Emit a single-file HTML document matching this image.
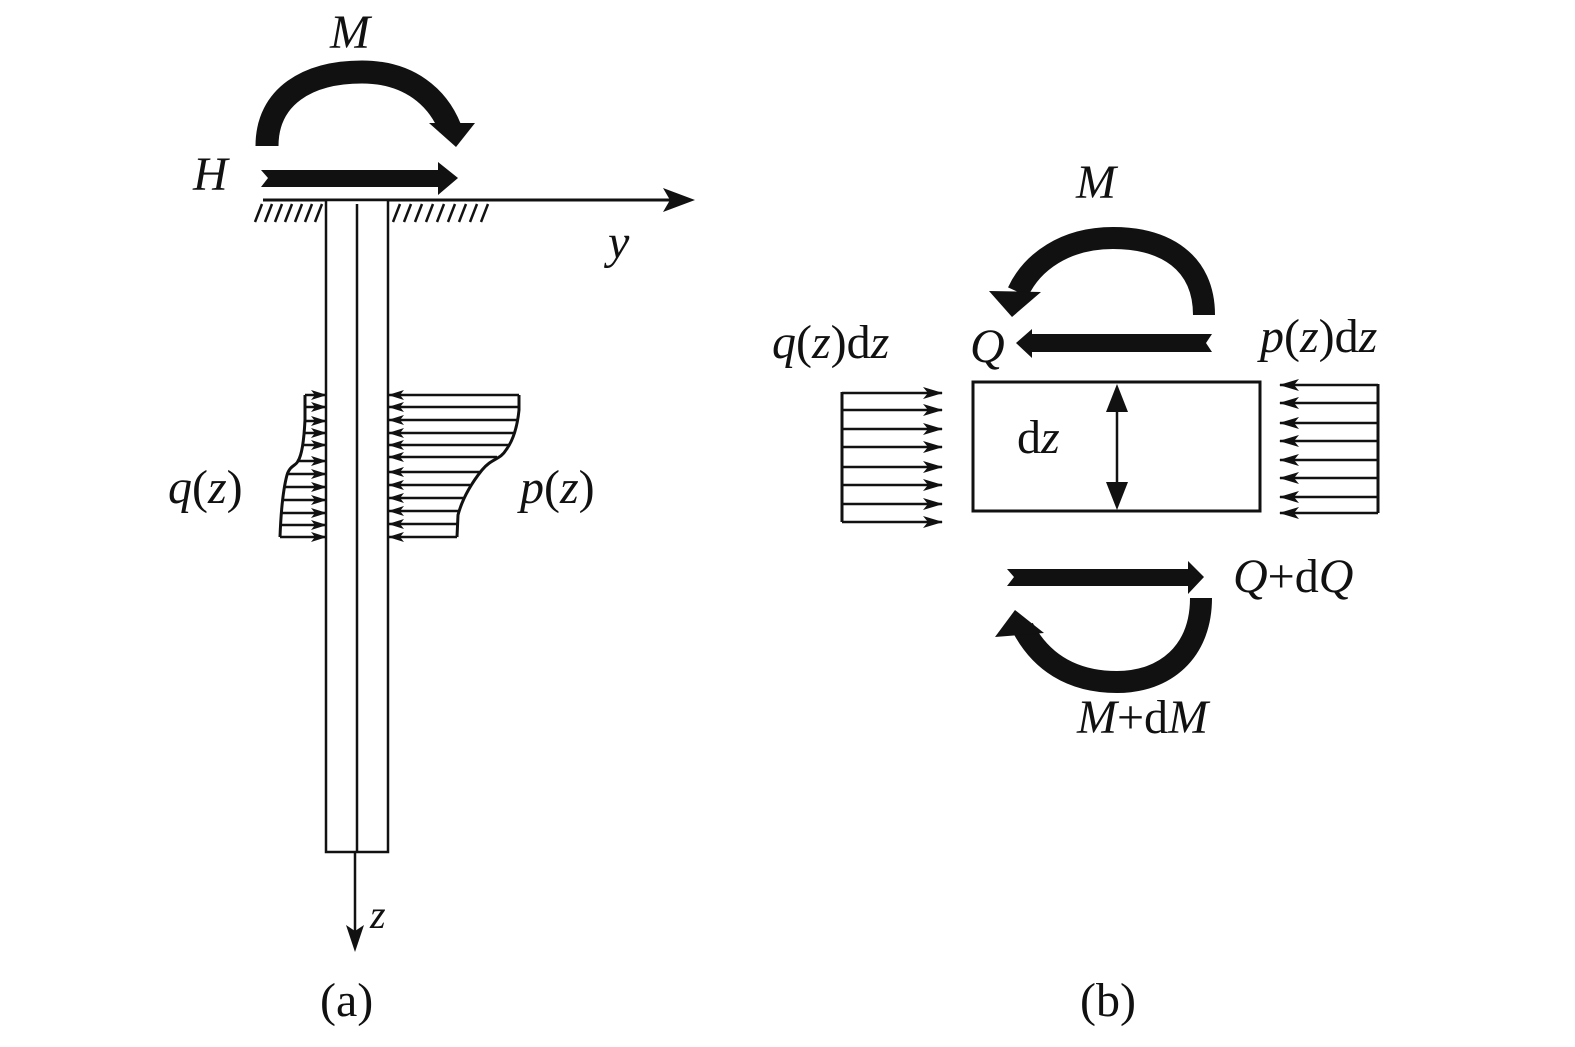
<!DOCTYPE html>
<html><head><meta charset="utf-8"><style>
html,body{margin:0;padding:0;background:#fff}
svg{display:block}
text{font-family:"Liberation Serif",serif;fill:#111}
</style></head><body>
<svg width="1575" height="1047" viewBox="0 0 1575 1047" xmlns="http://www.w3.org/2000/svg">
<defs>
<marker id="ar" markerWidth="20" markerHeight="12" refX="19" refY="6" orient="auto" markerUnits="userSpaceOnUse">
<path d="M0,0 L20,6 L0,12 L5,6 Z" fill="#111"/></marker>
<marker id="as" markerWidth="16" markerHeight="10" refX="15" refY="5" orient="auto" markerUnits="userSpaceOnUse">
<path d="M0,0 L16,5 L0,10 L4,5 Z" fill="#111"/></marker>
</defs>
<g stroke="#111" fill="none">
<!-- Figure a -->
<line x1="263" y1="200" x2="680" y2="200" stroke-width="3"/>
<polygon points="695,200 663,188 670,200 663,212" fill="#111" stroke="none"/>
<g stroke-width="2.5">
<line x1="262" y1="204" x2="255" y2="222"/><line x1="272" y1="204" x2="265" y2="222"/><line x1="282" y1="204" x2="275" y2="222"/><line x1="292" y1="204" x2="285" y2="222"/><line x1="302" y1="204" x2="295" y2="222"/><line x1="312" y1="204" x2="305" y2="222"/><line x1="322" y1="204" x2="315" y2="222"/>
<line x1="400" y1="204" x2="393" y2="222"/><line x1="411" y1="204" x2="404" y2="222"/><line x1="422" y1="204" x2="415" y2="222"/><line x1="433" y1="204" x2="426" y2="222"/><line x1="444" y1="204" x2="437" y2="222"/><line x1="455" y1="204" x2="448" y2="222"/><line x1="466" y1="204" x2="459" y2="222"/><line x1="477" y1="204" x2="470" y2="222"/><line x1="488" y1="204" x2="481" y2="222"/>
</g>
<rect x="326" y="200" width="62" height="652" stroke-width="2.5" fill="#fff"/>
<line x1="357" y1="204" x2="357" y2="852" stroke-width="2.5"/>
<line x1="355" y1="852" x2="355" y2="935" stroke-width="2.5"/>
<polygon points="355,952 346,925 355,931 364,925" fill="#111" stroke="none"/>
<!-- H arrow -->
<polygon points="261,170 438,170 438,162 458,178 438,195 438,187 261,187 268,178" fill="#111" stroke="none"/>
<!-- M arc a -->
<path d="M267 146 C267 96 308 72 362 72 C410 72 438 98 450 128" stroke-width="23"/>
<polygon points="429,123 475,123 456,147" fill="#111" stroke="none"/>
<!-- q(z) -->
<path d="M305 395 L305 420 C304 440 302 455 298 461 C296 466 290 465 287 475 C283 490 281 510 280 537" stroke-width="3"/>
<g stroke-width="2.5" marker-end="url(#as)">
<line x1="305" y1="395" x2="326" y2="395"/><line x1="305" y1="407" x2="326" y2="407"/><line x1="304" y1="421" x2="326" y2="421"/><line x1="303" y1="433" x2="326" y2="433"/><line x1="302" y1="445" x2="326" y2="445"/><line x1="298" y1="461" x2="326" y2="461"/><line x1="286" y1="474" x2="326" y2="474"/><line x1="284" y1="487" x2="326" y2="487"/><line x1="283" y1="500" x2="326" y2="500"/><line x1="282" y1="513" x2="326" y2="513"/><line x1="281" y1="525" x2="326" y2="525"/><line x1="280" y1="537" x2="326" y2="537"/>
</g>
<!-- p(z) -->
<path d="M519 395 L519 410 C517 430 512 442 506 450 C500 460 492 458 482 470 C470 485 462 500 458 515 L457 537" stroke-width="3"/>
<g stroke-width="2.5" marker-end="url(#as)">
<line x1="519" y1="395" x2="389" y2="395"/><line x1="519" y1="407" x2="389" y2="407"/><line x1="518" y1="420" x2="389" y2="420"/><line x1="515" y1="433" x2="389" y2="433"/><line x1="510" y1="445" x2="389" y2="445"/><line x1="497" y1="457" x2="389" y2="457"/><line x1="480" y1="472" x2="389" y2="472"/><line x1="470" y1="485" x2="389" y2="485"/><line x1="464" y1="498" x2="389" y2="498"/><line x1="460" y1="511" x2="389" y2="511"/><line x1="458" y1="524" x2="389" y2="524"/><line x1="457" y1="537" x2="389" y2="537"/>
</g>
<!-- Figure b -->
<rect x="973" y="382" width="287" height="129" stroke-width="3"/>
<line x1="1117" y1="405" x2="1117" y2="488" stroke-width="2.5"/>
<polygon points="1117,384 1106,412 1128,412" fill="#111" stroke="none"/>
<polygon points="1117,510 1106,482 1128,482" fill="#111" stroke="none"/>
<line x1="842" y1="392" x2="842" y2="522" stroke-width="3"/>
<g stroke-width="2.5" marker-end="url(#ar)">
<line x1="842" y1="393" x2="942" y2="393"/><line x1="842" y1="410" x2="942" y2="410"/><line x1="842" y1="429" x2="942" y2="429"/><line x1="842" y1="447" x2="942" y2="447"/><line x1="842" y1="467" x2="942" y2="467"/><line x1="842" y1="485" x2="942" y2="485"/><line x1="842" y1="504" x2="942" y2="504"/><line x1="842" y1="522" x2="942" y2="522"/>
</g>
<line x1="1378" y1="384" x2="1378" y2="513" stroke-width="3"/>
<g stroke-width="2.5" marker-end="url(#ar)">
<line x1="1378" y1="385" x2="1280" y2="385"/><line x1="1378" y1="403" x2="1280" y2="403"/><line x1="1378" y1="423" x2="1280" y2="423"/><line x1="1378" y1="441" x2="1280" y2="441"/><line x1="1378" y1="460" x2="1280" y2="460"/><line x1="1378" y1="478" x2="1280" y2="478"/><line x1="1378" y1="497" x2="1280" y2="497"/><line x1="1378" y1="513" x2="1280" y2="513"/>
</g>
<!-- Q arrow -->
<polygon points="1212,334 1032,334 1032,329 1016,343 1032,358 1032,352 1212,352 1206,343" fill="#111" stroke="none"/>
<!-- M arc b -->
<path d="M1204 315 C1204 262 1165 238 1113 238 C1065 238 1032 262 1018 292" stroke-width="22"/>
<polygon points="989,291 1041,292 1012,317" fill="#111" stroke="none"/>
<!-- Q+dQ arrow -->
<polygon points="1007,569 1188,569 1188,561 1204,577 1188,594 1188,586 1007,586 1014,577" fill="#111" stroke="none"/>
<!-- M+dM arc -->
<path d="M1201 598 C1201 652 1165 682 1117 682 C1070 682 1040 660 1023 628" stroke-width="22"/>
<polygon points="995,637 1044,633 1015,610" fill="#111" stroke="none"/>
</g>
<!-- labels -->
<g font-size="48">
<text font-style="italic" x="330" y="48">M</text>
<text font-style="italic" x="193" y="190">H</text>
<text font-style="italic" x="608" y="258">y</text>
<text font-style="italic" x="370" y="928" font-size="40">z</text>
<text x="168" y="503"><tspan font-style="italic">q</tspan>(<tspan font-style="italic">z</tspan>)</text>
<text x="520" y="503"><tspan font-style="italic">p</tspan>(<tspan font-style="italic">z</tspan>)</text>
<text x="320" y="1016">(a)</text>
<text x="1080" y="1016">(b)</text>
<text font-style="italic" x="1076" y="198">M</text>
<text font-style="italic" x="970" y="362">Q</text>
<text x="772" y="358"><tspan font-style="italic">q</tspan>(<tspan font-style="italic">z</tspan>)d<tspan font-style="italic">z</tspan></text>
<text x="1260" y="352"><tspan font-style="italic">p</tspan>(<tspan font-style="italic">z</tspan>)d<tspan font-style="italic">z</tspan></text>
<text x="1017" y="453">d<tspan font-style="italic">z</tspan></text>
<text x="1233" y="592"><tspan font-style="italic">Q</tspan>+d<tspan font-style="italic">Q</tspan></text>
<text x="1077" y="733"><tspan font-style="italic">M</tspan>+d<tspan font-style="italic">M</tspan></text>
</g>
</svg>
</body></html>
